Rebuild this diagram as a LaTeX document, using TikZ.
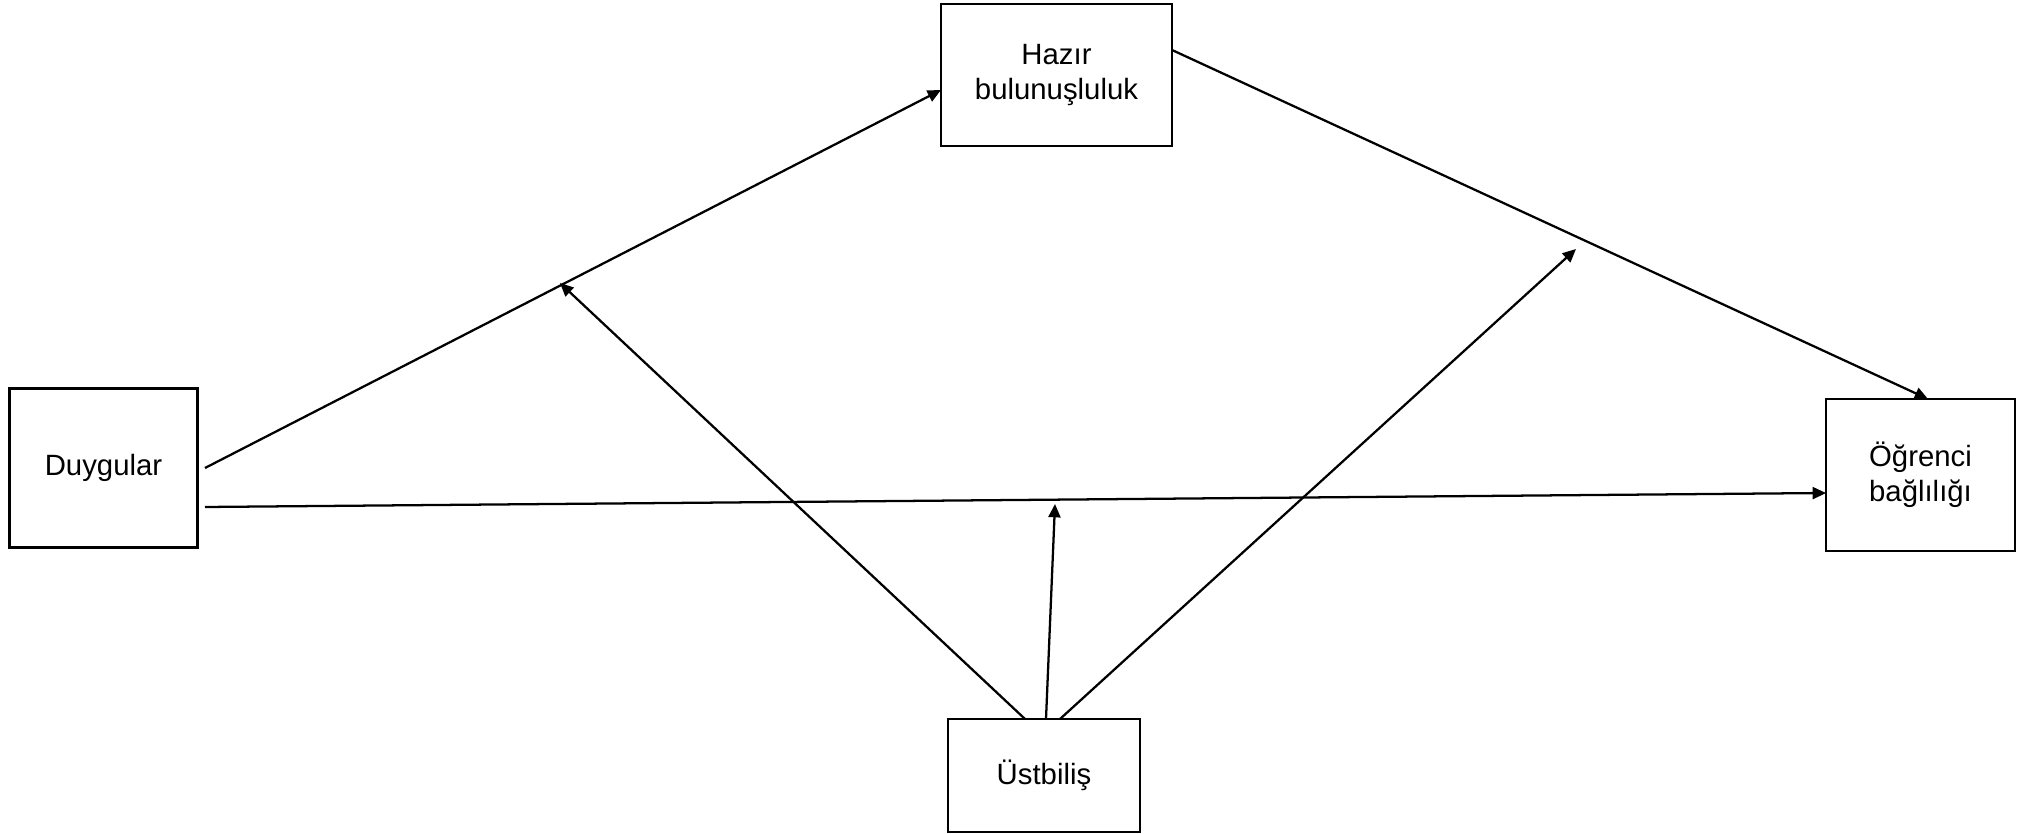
\documentclass[tikz,border=0pt]{standalone}
\usepackage{fontspec}
\setmainfont{Liberation Sans}
\usetikzlibrary{arrows.meta}
\begin{document}
\begin{tikzpicture}[x=0.375pt,y=-0.375pt,
  box/.style={draw,line width=0.85pt,inner sep=0pt,align=center,
    font=\fontsize{11}{13.1}\selectfont},
  link/.style={line width=0.85pt,-{Triangle[length=5pt,width=4.5pt]}}]
\useasboundingbox (0,0) rectangle (2025,834);
% variables
\node[box,minimum width=86.6pt,minimum height=53.2pt] (haz) at (1056.5,75) {Hazır\\bulunuşluluk};
\node[box,minimum width=70.5pt,minimum height=59.6pt] (duy) at (103.5,468) {Duygular};
\node[box,minimum width=70.9pt,minimum height=57pt] (ogr) at (1920.5,475) {Öğrenci\\bağlılığı};
\node[box,minimum width=72pt,minimum height=42.4pt] (ust) at (1044,775.5) {Üstbiliş};
% connector ends
\coordinate (d1) at (205,468);
\coordinate (d2) at (205,507);
\coordinate (hin) at (941,90);
\coordinate (hout) at (1172,50);
\coordinate (otop) at (1928,399);
\coordinate (oin) at (1826,493);
\coordinate (u1) at (1025,719);
\coordinate (u2) at (1046,719);
\coordinate (u3) at (1060,719);
\coordinate (m1) at (560,283);
\coordinate (m2) at (1055,504);
\coordinate (m3) at (1576,249);
% paths
\draw[link] (d1) -- (hin);
\draw[link] (hout) -- (otop);
\draw[link] (d2) -- (oin);
% moderation arrows
\draw[link] (u1) -- (m1);
\draw[link] (u2) -- (m2);
\draw[link] (u3) -- (m3);
\end{tikzpicture}
\end{document}
